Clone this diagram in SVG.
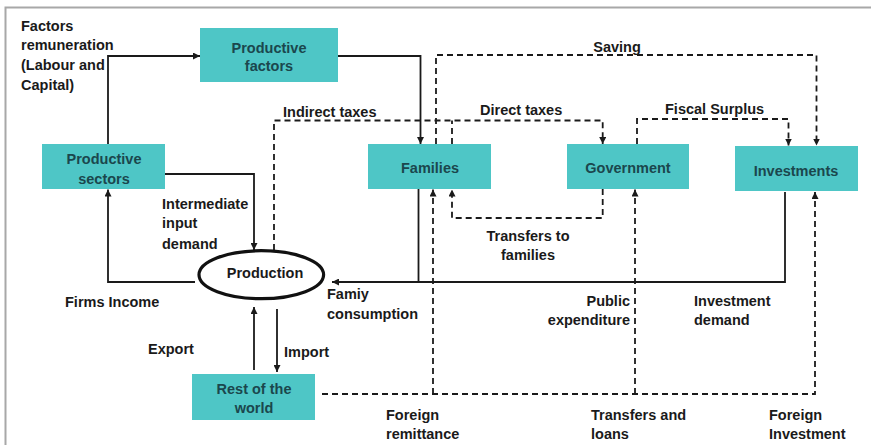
<svg xmlns="http://www.w3.org/2000/svg" width="871" height="445" viewBox="0 0 871 445">
<defs>
<marker id="ah" viewBox="0 0 10 10" refX="10" refY="5" markerWidth="7" markerHeight="7" markerUnits="userSpaceOnUse" orient="auto">
<path d="M0,0 L10,5 L0,10 z" fill="#1a1a1a"/>
</marker>
<style>
.node rect{fill:#4EC6C6;}
.nt{font-family:"Liberation Sans",Arial,sans-serif;font-weight:bold;font-size:14.5px;fill:#1B474D;text-anchor:middle;}
.lb{font-family:"Liberation Sans",Arial,sans-serif;font-weight:bold;font-size:14.5px;fill:#1a1a1a;}
.s{fill:none;stroke:#1a1a1a;stroke-width:1.8;}
.d{fill:none;stroke:#1a1a1a;stroke-width:1.8;stroke-dasharray:6 4;}
.arr{marker-end:url(#ah);}
</style>
</defs>
<rect width="871" height="445" fill="#ffffff"/>
<path d="M5.5,445 V7.5 H871" fill="none" stroke="#a8a8a8" stroke-width="2"/>

<g id="connectors">
<path class="s arr" d="M108,144 V56 H200"/>
<path class="s arr" d="M338,56 H420.5 V144"/>
<path class="s arr" d="M165,174 H254 V250"/>
<path class="d arr" d="M274,250 V120.5 H602.7 V144"/>
<path class="d" d="M452,144 V120.5"/>
<path class="d arr" d="M436,144 V55 H816.5 V145.5"/>
<path class="d arr" d="M637,144 V119 H788.5 V145.5"/>
<path class="d arr" d="M602.7,189 V218 H452 V189.5"/>
<path class="s arr" d="M785,192 V282 H332"/>
<path class="s" d="M418.5,189 V282"/>
<path class="s arr" d="M195,282 H108 V189.5"/>
<path class="s arr" d="M254,370 V307"/>
<path class="s arr" d="M277,309 V372"/>
<path class="d arr" d="M322,394 H815 V192"/>
<path class="d arr" d="M433,394 V189.5"/>
<path class="d arr" d="M635,394 V189.5"/>
</g>

<g id="productive-factors" class="node">
<rect x="200" y="28" width="138" height="54"/>
<text class="nt" x="269" y="52.5">Productive</text>
<text class="nt" x="269" y="71">factors</text>
</g>
<g id="productive-sectors" class="node">
<rect x="42" y="144" width="123" height="45"/>
<text class="nt" x="104" y="164">Productive</text>
<text class="nt" x="104" y="184">sectors</text>
</g>
<g id="families" class="node">
<rect x="368" y="144" width="123" height="45"/>
<text class="nt" x="430" y="173">Families</text>
</g>
<g id="government" class="node">
<rect x="567" y="144" width="122" height="45"/>
<text class="nt" x="628" y="173">Government</text>
</g>
<g id="investments" class="node">
<rect x="735" y="146" width="123" height="45"/>
<text class="nt" x="796" y="176">Investments</text>
</g>
<g id="rest-of-the-world" class="node">
<rect x="192" y="374" width="123" height="46"/>
<text class="nt" x="254" y="394">Rest of the</text>
<text class="nt" x="254" y="413">world</text>
</g>
<g id="production">
<ellipse cx="261.3" cy="274.7" rx="62.3" ry="24" fill="#ffffff" stroke="#111111" stroke-width="3.2"/>
<text class="lb" x="265" y="277.5" text-anchor="middle">Production</text>
</g>

<g id="labels">
<text class="lb" x="21" y="31">Factors</text>
<text class="lb" x="21" y="50">remuneration</text>
<text class="lb" x="21" y="69.5">(Labour and</text>
<text class="lb" x="21" y="90">Capital)</text>
<text class="lb" x="283" y="117">Indirect taxes</text>
<text class="lb" x="617" y="52" text-anchor="middle">Saving</text>
<text class="lb" x="480" y="114.5">Direct taxes</text>
<text class="lb" x="665" y="113.5">Fiscal Surplus</text>
<text class="lb" x="162" y="208.5">Intermediate</text>
<text class="lb" x="162" y="228">input</text>
<text class="lb" x="162" y="249">demand</text>
<text class="lb" x="528" y="241" text-anchor="middle">Transfers to</text>
<text class="lb" x="528" y="259.5" text-anchor="middle">families</text>
<text class="lb" x="65" y="307">Firms Income</text>
<text class="lb" x="327" y="299">Famiy</text>
<text class="lb" x="327" y="319">consumption</text>
<text class="lb" x="630" y="306" text-anchor="end">Public</text>
<text class="lb" x="630" y="325" text-anchor="end">expenditure</text>
<text class="lb" x="694" y="306">Investment</text>
<text class="lb" x="694" y="325">demand</text>
<text class="lb" x="148" y="353.5">Export</text>
<text class="lb" x="284" y="357">Import</text>
<text class="lb" x="386" y="420">Foreign</text>
<text class="lb" x="386" y="438.5">remittance</text>
<text class="lb" x="591" y="420">Transfers and</text>
<text class="lb" x="591" y="438.5">loans</text>
<text class="lb" x="769" y="420">Foreign</text>
<text class="lb" x="769" y="438.5">Investment</text>
</g>
</svg>
